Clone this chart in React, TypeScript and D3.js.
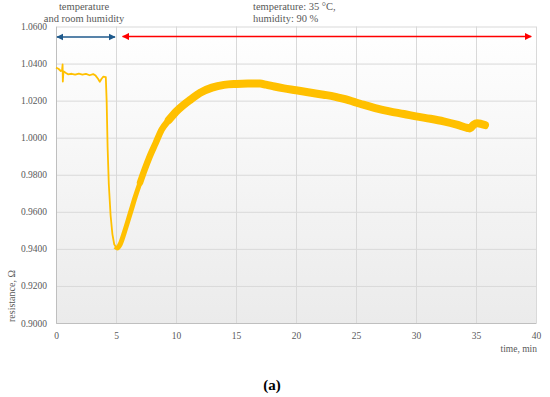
import { useEffect, useRef } from 'react';
import * as d3 from 'd3';

// room conditions (thin trace, incl. the drop)
const roomTime = [0, 0.2, 0.4, 0.5, 0.55, 0.57, 0.62, 0.8, 1.0, 1.3, 1.6, 1.9, 2.2, 2.5, 2.8, 3.1, 3.3, 3.5, 3.65, 3.8, 3.95, 4.15, 4.22, 4.3, 4.4, 4.55, 4.7, 4.85, 5.0];
const roomRes = [1.0378, 1.0372, 1.036, 1.0362, 1.0395, 1.0303, 1.0358, 1.035, 1.0342, 1.0345, 1.034, 1.0346, 1.034, 1.0344, 1.0337, 1.0343, 1.0335, 1.0318, 1.0302, 1.0318, 1.033, 1.0327, 1.02, 0.995, 0.975, 0.958, 0.948, 0.9425, 0.9408];

// 35 °C / 90 % humidity (thick noisy band)
const humidTime = [4.95, 5.1, 5.35, 5.7, 6.2, 6.6, 7.0, 7.4, 7.8, 8.3, 8.8, 9.4, 10.0, 10.6, 11.2, 12.0, 13.0, 14.0, 15.0, 16.0, 17.0, 17.5, 18.2, 19.0, 20.0, 21.0, 22.3, 23.2, 24.0, 25.0, 25.6, 26.6, 27.8, 29.0, 30.0, 31.2, 32.3, 33.4, 34.3, 34.5, 34.8, 35.1, 35.4, 35.75];
const humidRes = [0.9412, 0.9405, 0.9425, 0.949, 0.9595, 0.968, 0.9757, 0.983, 0.9897, 0.997, 1.0043, 1.0095, 1.014, 1.0175, 1.0205, 1.0242, 1.027, 1.0285, 1.029, 1.0292, 1.0292, 1.0286, 1.0276, 1.0266, 1.0256, 1.0245, 1.0232, 1.0222, 1.0209, 1.019, 1.0178, 1.016, 1.0142, 1.0128, 1.0115, 1.0102, 1.0088, 1.007, 1.0052, 1.005, 1.007, 1.0078, 1.0075, 1.0068];

const xTicks = [0, 5, 10, 15, 20, 25, 30, 35, 40];
const yTicks = [0.9, 0.92, 0.94, 0.96, 0.98, 1.0, 1.02, 1.04, 1.06];

const FONT = 'Liberation Serif, serif';
const GREY = '#595959';
const YELLOW = '#ffc000';

export default function App() {
  const ref = useRef<SVGSVGElement>(null);

  useEffect(() => {
    if (!ref.current) return;
    const svg = d3.select(ref.current);
    svg.selectAll('*').remove();

    const left = 56, right = 536, top = 26.5, bottom = 323;
    const x = d3.scaleLinear().domain([0, 40]).range([left, right]);
    const y = d3.scaleLinear().domain([0.9, 1.06]).range([bottom, top]);

    const defs = svg.append('defs');
    const grad = defs.append('linearGradient').attr('id', 'bg').attr('x1', 0).attr('y1', 0).attr('x2', 0).attr('y2', 1);
    grad.append('stop').attr('offset', '0%').attr('stop-color', '#ffffff');
    grad.append('stop').attr('offset', '100%').attr('stop-color', '#ebebeb');

    const marker = (id: string, color: string) => {
      const m = defs.append('marker').attr('id', id).attr('viewBox', '0 0 10 10')
        .attr('refX', 9).attr('refY', 5).attr('markerWidth', 4.5).attr('markerHeight', 4.5)
        .attr('orient', 'auto-start-reverse').attr('markerUnits', 'strokeWidth');
      m.append('path').attr('d', 'M0,0L10,5L0,10z').attr('fill', color);
    };
    marker('arrBlue', '#1f5a8c');
    marker('arrRed', '#ff0000');

    svg.append('rect').attr('x', left).attr('y', top).attr('width', right - left).attr('height', bottom - top)
      .attr('fill', 'url(#bg)');

    // grid
    svg.append('g').attr('transform', `translate(0,${bottom})`)
      .call(d3.axisBottom(x).tickValues(xTicks).tickSize(-(bottom - top)).tickFormat(() => ''))
      .call(g => g.select('.domain').remove())
      .call(g => g.selectAll('line').attr('stroke', '#d9d9d9'));
    svg.append('g').attr('transform', `translate(${left},0)`)
      .call(d3.axisLeft(y).tickValues(yTicks).tickSize(-(right - left)).tickFormat(() => ''))
      .call(g => g.select('.domain').remove())
      .call(g => g.selectAll('line').attr('stroke', '#d9d9d9'));

    // axes
    svg.append('g').attr('transform', `translate(0,${bottom})`)
      .call(d3.axisBottom(x).tickValues(xTicks).tickSize(0).tickPadding(9).tickFormat(d3.format('d')))
      .call(g => g.select('.domain').attr('stroke', '#bfbfbf'))
      .call(g => g.selectAll('text').attr('fill', GREY).style('font-family', FONT).style('font-size', '9.5px'));
    svg.append('g').attr('transform', `translate(${left},0)`)
      .call(d3.axisLeft(y).tickValues(yTicks).tickSize(0).tickPadding(9).tickFormat(d3.format('.4f')))
      .call(g => g.select('.domain').attr('stroke', '#bfbfbf'))
      .call(g => g.selectAll('text').attr('fill', GREY).style('font-family', FONT).style('font-size', '9.5px'));

    // data
    const line = d3.line<[number, number]>().x(d => x(d[0])).y(d => y(d[1]));
    svg.append('path').datum(d3.zip(roomTime, roomRes) as [number, number][])
      .attr('d', line).attr('fill', 'none').attr('stroke', YELLOW).attr('stroke-width', 1.8)
      .attr('stroke-linejoin', 'round');

    // the humid band gets wider as the noise grows
    const humid = d3.zip(humidTime, humidRes) as [number, number][];
    const smooth = d3.line<[number, number]>().x(d => x(d[0])).y(d => y(d[1])).curve(d3.curveMonotoneX);
    const bands: [number, number][] = [[4.9, 5], [7.0, 6.5], [9.4, 8]];
    bands.forEach(([from, w]) => {
      svg.append('path').datum(humid.filter(d => d[0] >= from))
        .attr('d', smooth).attr('fill', 'none').attr('stroke', YELLOW).attr('stroke-width', w)
        .attr('stroke-linejoin', 'round').attr('stroke-linecap', from > 5 ? 'round' : 'butt');
    });

    // arrows
    svg.append('line').attr('x1', x(0) + 1).attr('x2', x(5) - 1).attr('y1', 37).attr('y2', 37)
      .attr('stroke', '#1f5a8c').attr('stroke-width', 1.6)
      .attr('marker-start', 'url(#arrBlue)').attr('marker-end', 'url(#arrBlue)');
    svg.append('line').attr('x1', x(5.55)).attr('x2', x(39.6)).attr('y1', 36.5).attr('y2', 36.5)
      .attr('stroke', '#ff0000').attr('stroke-width', 1.6)
      .attr('marker-start', 'url(#arrRed)').attr('marker-end', 'url(#arrRed)');

    const txt = (tx: number, ty: number, s: string, anchor = 'start', size = 10) =>
      svg.append('text').attr('x', tx).attr('y', ty).attr('text-anchor', anchor)
        .style('font-family', FONT).style('font-size', `${size}px`).attr('fill', GREY).text(s);

    txt(84, 10, 'temperature', 'middle', 10.5);
    txt(84, 22, 'and room humidity', 'middle', 10.5);
    txt(253, 10, 'temperature: 35 °C,', 'start', 10.5);
    txt(253, 22, 'humidity: 90 %', 'start', 10.5);
    txt(537, 352, 'time, min', 'end', 9.5);

    svg.append('text').attr('transform', 'translate(15,322) rotate(-90)')
      .style('font-family', FONT).style('font-size', '10px').attr('fill', GREY).text('resistance, Ω');

    svg.append('text').attr('x', 272).attr('y', 390).attr('text-anchor', 'middle')
      .style('font-family', FONT).style('font-size', '15px').attr('font-weight', 'bold').attr('fill', '#000')
      .text('(a)');
  }, []);

  return <svg ref={ref} width={550} height={397} style={{ position: 'absolute', left: 0, top: 0, background: '#fff' }} />;
}
